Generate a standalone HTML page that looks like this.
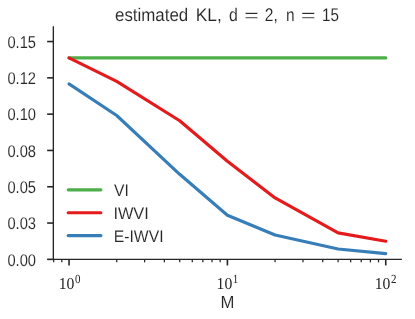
<!DOCTYPE html>
<html><head><meta charset="utf-8"><title>estimated KL</title>
<style>html,body{margin:0;padding:0;background:#fff;}svg{display:block;will-change:transform;}text{font-family:"Liberation Sans",sans-serif;fill:#262626;stroke:#fff;stroke-width:0.1px;text-rendering:geometricPrecision;}.s{font-family:"Liberation Serif",serif;stroke:none;}</style></head><body>
<svg width="415" height="319" viewBox="0 0 415 319">
<rect width="415" height="319" fill="#fff"/>
<polyline points="69.0,57.9 116.7,57.9 179.7,57.9 227.4,57.9 275.1,57.9 338.1,57.9 385.8,57.9" fill="none" stroke="#4daf4a" stroke-width="3.1" stroke-linecap="round" stroke-linejoin="round"/>
<polyline points="69.0,57.9 116.7,81.4 179.7,120.8 227.4,161.2 275.1,197.9 338.1,232.9 385.8,241.2" fill="none" stroke="#e41a1c" stroke-width="3.1" stroke-linecap="round" stroke-linejoin="round"/>
<polyline points="69.0,83.9 116.7,115.5 179.7,174.3 227.4,215.3 275.1,235.0 338.1,249.0 385.8,253.6" fill="none" stroke="#377eb8" stroke-width="3.1" stroke-linecap="round" stroke-linejoin="round"/>
<path d="M53.35,26.3 V259.35 H401.9" fill="none" stroke="#262626" stroke-width="1.35" stroke-linecap="butt" stroke-linejoin="miter"/>
<line x1="47.15" x2="53.35" y1="259.35" y2="259.35" stroke="#262626" stroke-width="1.6"/>
<text x="7.4" y="266" font-size="17" textLength="28.6" lengthAdjust="spacingAndGlyphs">0.00</text>
<line x1="47.15" x2="53.35" y1="223.05" y2="223.05" stroke="#262626" stroke-width="1.6"/>
<text x="7.4" y="229" font-size="17" textLength="28.6" lengthAdjust="spacingAndGlyphs">0.03</text>
<line x1="47.15" x2="53.35" y1="186.75" y2="186.75" stroke="#262626" stroke-width="1.6"/>
<text x="7.4" y="193" font-size="17" textLength="28.6" lengthAdjust="spacingAndGlyphs">0.05</text>
<line x1="47.15" x2="53.35" y1="150.45" y2="150.45" stroke="#262626" stroke-width="1.6"/>
<text x="7.4" y="157" font-size="17" textLength="28.6" lengthAdjust="spacingAndGlyphs">0.08</text>
<line x1="47.15" x2="53.35" y1="114.15" y2="114.15" stroke="#262626" stroke-width="1.6"/>
<text x="7.4" y="120" font-size="17" textLength="28.6" lengthAdjust="spacingAndGlyphs">0.10</text>
<line x1="47.15" x2="53.35" y1="77.85" y2="77.85" stroke="#262626" stroke-width="1.6"/>
<text x="7.4" y="84" font-size="17" textLength="28.6" lengthAdjust="spacingAndGlyphs">0.12</text>
<line x1="47.15" x2="53.35" y1="41.55" y2="41.55" stroke="#262626" stroke-width="1.6"/>
<text x="7.4" y="48" font-size="17" textLength="28.6" lengthAdjust="spacingAndGlyphs">0.15</text>
<line x1="69.05" x2="69.05" y1="259.35" y2="265.45" stroke="#262626" stroke-width="1.6"/>
<text class="s" x="58.75" y="289" font-size="16.6" textLength="15.7" lengthAdjust="spacingAndGlyphs">10</text>
<text class="s" x="74.95" y="283" font-size="12.4" textLength="5.5" lengthAdjust="spacingAndGlyphs">0</text>
<line x1="227.40" x2="227.40" y1="259.35" y2="265.45" stroke="#262626" stroke-width="1.6"/>
<text class="s" x="216.60" y="289" font-size="16.6" textLength="15.7" lengthAdjust="spacingAndGlyphs">10</text>
<text class="s" x="232.80" y="283" font-size="12.4" textLength="5.5" lengthAdjust="spacingAndGlyphs">1</text>
<line x1="385.75" x2="385.75" y1="259.35" y2="265.45" stroke="#262626" stroke-width="1.6"/>
<text class="s" x="374.75" y="289" font-size="16.6" textLength="15.7" lengthAdjust="spacingAndGlyphs">10</text>
<text class="s" x="390.95" y="283" font-size="12.4" textLength="5.5" lengthAdjust="spacingAndGlyphs">2</text>
<line x1="53.70" x2="53.70" y1="259.35" y2="262.35" stroke="#262626" stroke-width="1.25"/>
<line x1="61.80" x2="61.80" y1="259.35" y2="262.35" stroke="#262626" stroke-width="1.25"/>
<line x1="116.72" x2="116.72" y1="259.35" y2="262.35" stroke="#262626" stroke-width="1.25"/>
<line x1="144.60" x2="144.60" y1="259.35" y2="262.35" stroke="#262626" stroke-width="1.25"/>
<line x1="164.39" x2="164.39" y1="259.35" y2="262.35" stroke="#262626" stroke-width="1.25"/>
<line x1="179.73" x2="179.73" y1="259.35" y2="262.35" stroke="#262626" stroke-width="1.25"/>
<line x1="192.27" x2="192.27" y1="259.35" y2="262.35" stroke="#262626" stroke-width="1.25"/>
<line x1="202.87" x2="202.87" y1="259.35" y2="262.35" stroke="#262626" stroke-width="1.25"/>
<line x1="212.05" x2="212.05" y1="259.35" y2="262.35" stroke="#262626" stroke-width="1.25"/>
<line x1="220.15" x2="220.15" y1="259.35" y2="262.35" stroke="#262626" stroke-width="1.25"/>
<line x1="275.07" x2="275.07" y1="259.35" y2="262.35" stroke="#262626" stroke-width="1.25"/>
<line x1="302.95" x2="302.95" y1="259.35" y2="262.35" stroke="#262626" stroke-width="1.25"/>
<line x1="322.74" x2="322.74" y1="259.35" y2="262.35" stroke="#262626" stroke-width="1.25"/>
<line x1="338.08" x2="338.08" y1="259.35" y2="262.35" stroke="#262626" stroke-width="1.25"/>
<line x1="350.62" x2="350.62" y1="259.35" y2="262.35" stroke="#262626" stroke-width="1.25"/>
<line x1="361.22" x2="361.22" y1="259.35" y2="262.35" stroke="#262626" stroke-width="1.25"/>
<line x1="370.40" x2="370.40" y1="259.35" y2="262.35" stroke="#262626" stroke-width="1.25"/>
<line x1="378.50" x2="378.50" y1="259.35" y2="262.35" stroke="#262626" stroke-width="1.25"/>
<text x="220.5" y="308" font-size="17.4" textLength="13.9" lengthAdjust="spacingAndGlyphs">M</text>
<text x="115.0" y="21" font-size="18.2" textLength="73.2" lengthAdjust="spacingAndGlyphs">estimated</text>
<text x="195.8" y="21" font-size="18.2" textLength="26.0" lengthAdjust="spacingAndGlyphs">KL,</text>
<text x="229.0" y="21" font-size="18.2" textLength="8.8" lengthAdjust="spacingAndGlyphs">d</text>
<text x="244.0" y="21" font-size="16.6" style="stroke-width:0.3px" textLength="15.0" lengthAdjust="spacingAndGlyphs">=</text>
<text x="264.8" y="21" font-size="18.2" textLength="13.0" lengthAdjust="spacingAndGlyphs">2,</text>
<text x="286.0" y="21" font-size="18.2" textLength="8.6" lengthAdjust="spacingAndGlyphs">n</text>
<text x="300.7" y="21" font-size="16.6" style="stroke-width:0.3px" textLength="15.0" lengthAdjust="spacingAndGlyphs">=</text>
<text x="322.0" y="21" font-size="18.2" textLength="17.0" lengthAdjust="spacingAndGlyphs">15</text>
<line x1="68.2" x2="100.9" y1="189.85" y2="189.85" stroke="#4daf4a" stroke-width="3.1" stroke-linecap="round"/>
<text x="114.0" y="196" font-size="16.8" textLength="14.8" lengthAdjust="spacingAndGlyphs">VI</text>
<line x1="68.2" x2="100.9" y1="212.75" y2="212.75" stroke="#e41a1c" stroke-width="3.1" stroke-linecap="round"/>
<text x="113.4" y="219" font-size="16.8" textLength="35.4" lengthAdjust="spacingAndGlyphs">IWVI</text>
<line x1="68.2" x2="100.9" y1="235.6" y2="235.6" stroke="#377eb8" stroke-width="3.1" stroke-linecap="round"/>
<text x="113.8" y="242" font-size="16.8" textLength="49.7" lengthAdjust="spacingAndGlyphs">E-IWVI</text>
</svg></body></html>
